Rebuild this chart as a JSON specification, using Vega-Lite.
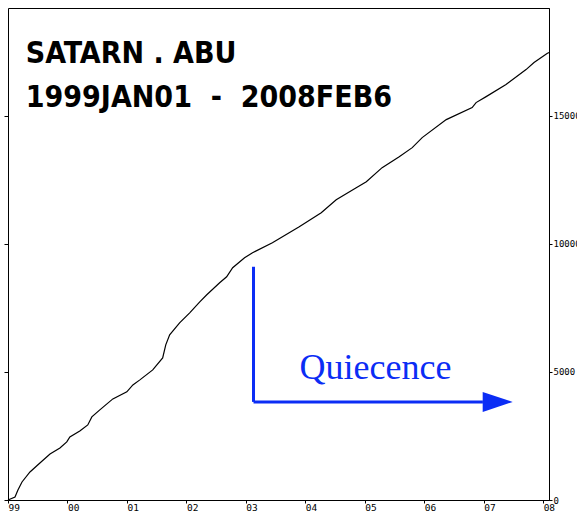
{
  "$schema": "https://vega.github.io/schema/vega-lite/v6.json",
  "width": 541,
  "height": 492,
  "autosize": {"type": "none"},
  "padding": {"left": 8, "top": 8, "right": 28, "bottom": 12},
  "background": "white",
  "config": {
    "view": {"stroke": "black", "strokeWidth": 1},
    "axis": {"grid": false, "domainColor": "black", "tickColor": "black", "labelColor": "black", "labelFont": "DejaVu Sans Mono", "title": null}
  },
  "datasets": {
    "counts": [
      {"t": "1999-01-01", "v": 0},
      {"t": "1999-02-13", "v": 117},
      {"t": "1999-03-03", "v": 391},
      {"t": "1999-03-28", "v": 703},
      {"t": "1999-05-16", "v": 1094},
      {"t": "1999-07-16", "v": 1445},
      {"t": "1999-09-16", "v": 1797},
      {"t": "1999-11-16", "v": 2031},
      {"t": "1999-12-28", "v": 2266},
      {"t": "2000-01-16", "v": 2461},
      {"t": "2000-03-17", "v": 2695},
      {"t": "2000-05-05", "v": 2930},
      {"t": "2000-05-30", "v": 3242},
      {"t": "2000-07-18", "v": 3516},
      {"t": "2000-10-06", "v": 3945},
      {"t": "2000-12-31", "v": 4219},
      {"t": "2001-02-06", "v": 4492},
      {"t": "2001-03-21", "v": 4688},
      {"t": "2001-06-08", "v": 5078},
      {"t": "2001-08-08", "v": 5547},
      {"t": "2001-08-27", "v": 6055},
      {"t": "2001-09-20", "v": 6445},
      {"t": "2001-11-20", "v": 6914},
      {"t": "2002-01-21", "v": 7305},
      {"t": "2002-03-24", "v": 7734},
      {"t": "2002-05-06", "v": 8008},
      {"t": "2002-07-24", "v": 8477},
      {"t": "2002-09-05", "v": 8711},
      {"t": "2002-10-12", "v": 9063},
      {"t": "2002-12-24", "v": 9453},
      {"t": "2003-02-11", "v": 9648},
      {"t": "2003-06-13", "v": 10039},
      {"t": "2003-11-25", "v": 10664},
      {"t": "2004-04-08", "v": 11211},
      {"t": "2004-07-09", "v": 11719},
      {"t": "2004-11-09", "v": 12188},
      {"t": "2005-01-10", "v": 12422},
      {"t": "2005-04-17", "v": 12969},
      {"t": "2005-07-31", "v": 13398},
      {"t": "2005-10-19", "v": 13750},
      {"t": "2005-12-19", "v": 14141},
      {"t": "2006-05-16", "v": 14844},
      {"t": "2006-10-22", "v": 15313},
      {"t": "2006-11-15", "v": 15508},
      {"t": "2007-01-16", "v": 15742},
      {"t": "2007-05-18", "v": 16211},
      {"t": "2007-09-18", "v": 16797},
      {"t": "2007-11-06", "v": 17070},
      {"t": "2008-01-25", "v": 17422},
      {"t": "2008-02-06", "v": 17460}
    ],
    "segs": [
      {"t1": "2003-02-17", "v1": 9102, "t2": "2003-02-17", "v2": 3828},
      {"t1": "2003-02-17", "v1": 3828, "t2": "2006-12-27", "v2": 3828}
    ],
    "head": [{"t": "2007-03-28", "v": 3828}],
    "labels": [
      {"t": "1999-04-20", "v": 17051, "text": "SATARN . ABU"},
      {"t": "1999-04-20", "v": 15352, "text": "1999JAN01 \u00a0- \u00a02008FEB6"}
    ],
    "note": [{"t": "2003-11-27", "v": 4727, "text": "Quiecence"}]
  },
  "resolve": {"axis": {"y": "independent"}},
  "layer": [
    {
      "data": {"name": "counts"},
      "mark": {"type": "line", "color": "black", "strokeWidth": 1.2},
      "encoding": {
        "x": {
          "field": "t", "type": "temporal",
          "scale": {"domain": ["1999-01-01", "2008-02-06"], "nice": false},
          "axis": {"orient": "bottom", "format": "%y", "tickCount": {"interval": "year", "step": 1}, "tickSize": 3, "labelAlign": "left", "labelDx": -2, "labelPadding": 7, "labelFontSize": 9.5, "labelFlush": false, "labelOverlap": false, "labelBaseline": "alphabetic"}
        },
        "y": {
          "field": "v", "type": "quantitative",
          "scale": {"domain": [0, 19200], "nice": false},
          "axis": {"orient": "right", "values": [0, 5000, 10000, 15000], "format": "d", "tickSize": 3, "labelPadding": 1, "labelFontSize": 9, "labelFlush": false, "labelOverlap": false}
        }
      }
    },
    {
      "data": {"name": "segs"},
      "mark": {"type": "rule", "color": "#0b2df5", "strokeWidth": 3},
      "encoding": {
        "x": {"field": "t1", "type": "temporal"},
        "x2": {"field": "t2"},
        "y": {"field": "v1", "type": "quantitative", "axis": {"orient": "left", "values": [0, 5000, 10000, 15000], "tickSize": 4, "labels": false, "domain": false}},
        "y2": {"field": "v2"}
      }
    },
    {
      "data": {"name": "head"},
      "mark": {"type": "point", "shape": "M-1,-0.667L1,0L-1,0.667Z", "filled": true, "color": "#0b2df5", "opacity": 1, "size": 900, "strokeWidth": 0},
      "encoding": {
        "x": {"field": "t", "type": "temporal"},
        "y": {"field": "v", "type": "quantitative", "axis": null}
      }
    },
    {
      "data": {"name": "labels"},
      "mark": {"type": "text", "font": "DejaVu Sans Condensed", "fontWeight": "bold", "fontSize": 30, "align": "left", "baseline": "alphabetic", "color": "black"},
      "encoding": {
        "x": {"field": "t", "type": "temporal"},
        "y": {"field": "v", "type": "quantitative", "axis": null},
        "text": {"field": "text"}
      }
    },
    {
      "data": {"name": "note"},
      "mark": {"type": "text", "font": "Liberation Serif", "fontSize": 36, "align": "left", "baseline": "alphabetic", "color": "#0b2df5"},
      "encoding": {
        "x": {"field": "t", "type": "temporal"},
        "y": {"field": "v", "type": "quantitative", "axis": null},
        "text": {"field": "text"}
      }
    }
  ]
}
